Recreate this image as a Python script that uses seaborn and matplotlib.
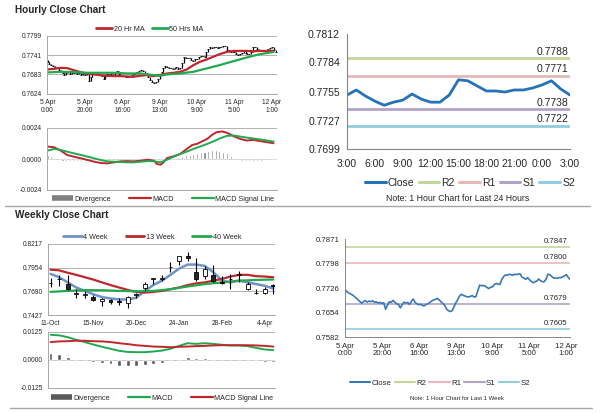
import numpy as np
import pandas as pd
import matplotlib
matplotlib.use('Agg')
import matplotlib.pyplot as plt
from matplotlib.lines import Line2D
import seaborn as sns

sns.set_style('white')
plt.rcParams['font.family'] = ['Liberation Sans', 'DejaVu Sans']

# hourly closes 5 Apr 0:00 .. 11 Apr 2:00
close_head = [0.7722, 0.7716, 0.7712, 0.7709, 0.7706, 0.7702, 0.7697, 0.7692, 0.7687, 0.7682,
              0.7686, 0.7689, 0.7685, 0.7688, 0.7686, 0.7689, 0.7684, 0.7686, 0.7682, 0.7684,
              0.7681, 0.7683, 0.7664, 0.7676, 0.7686, 0.7684, 0.7690, 0.7685, 0.7680, 0.7678,
              0.7668, 0.7677, 0.7685, 0.7682, 0.7684, 0.7678, 0.7687, 0.7694, 0.7684, 0.7680,
              0.7677, 0.7679, 0.7675, 0.7674, 0.7678, 0.7680, 0.7684, 0.7688, 0.7691, 0.7693,
              0.7696, 0.7692, 0.7686, 0.7681, 0.7676, 0.7665, 0.7660, 0.7657, 0.7659, 0.7670,
              0.7682, 0.7691, 0.7702, 0.7708, 0.7705, 0.7703, 0.7701, 0.7700, 0.7702, 0.7704,
              0.7700, 0.7701, 0.7718, 0.7735, 0.7733, 0.7734, 0.7732, 0.7728, 0.7725, 0.7729,
              0.7730, 0.7737, 0.7740, 0.7738, 0.7737, 0.7752, 0.7760, 0.7765, 0.7764, 0.7767,
              0.7766, 0.7764, 0.7767, 0.7766, 0.7768, 0.7768, 0.7758, 0.7756]
# last 24 hours, 11 Apr 3:00 .. 12 Apr 3:00
close_24h = [0.7752, 0.7757, 0.7751, 0.7746, 0.7742, 0.7745, 0.7747, 0.7753, 0.7748, 0.7745,
             0.7745, 0.7752, 0.7767, 0.7766, 0.7761, 0.7756, 0.7756, 0.7755, 0.7757, 0.7757,
             0.7759, 0.7762, 0.7766, 0.7758, 0.7752]
hourly_close = close_head + close_24h
hour_ticks = [0, 20, 40, 60, 80, 100, 120]
hour_labels = ['5 Apr\n0:00', '5 Apr\n20:00', '6 Apr\n16:00', '9 Apr\n13:00',
               '10 Apr\n9:00', '11 Apr\n5:00', '12 Apr\n1:00']

ma20_hours = [0, 3.5, 7, 10.5, 14, 17.5, 21, 24.5, 28, 32, 35.5, 39, 42.5, 46, 49.5, 53, 56.5, 60,
              64, 67.5, 71, 74.5, 78, 81.5, 85, 88.5, 92, 96, 99.5, 103, 106.5, 110, 113.5, 117, 121]
ma20 = [0.7698, 0.7700, 0.7703, 0.7702, 0.7696, 0.7690, 0.7686, 0.7683, 0.7681, 0.7679, 0.7678,
        0.7678, 0.7677, 0.7676, 0.7679, 0.7681, 0.7678, 0.7681, 0.7686, 0.7688, 0.7691, 0.7698,
        0.7711, 0.7721, 0.7728, 0.7736, 0.7744, 0.7751, 0.7754, 0.7754, 0.7754, 0.7753, 0.7754,
        0.7754, 0.7754]
ma50_hours = [0, 7, 14, 21, 28, 35.5, 42.5, 49.5, 56.5, 60, 64, 71, 78, 85, 92, 99.5, 106.5, 113.5, 121]
ma50 = [0.7689, 0.7691, 0.7690, 0.7688, 0.7688, 0.7688, 0.7686, 0.7686, 0.7681, 0.7679, 0.7683,
        0.7686, 0.7691, 0.7701, 0.7711, 0.7723, 0.7734, 0.7744, 0.7751]

macd_h_hours = [0, 3.5, 7, 10.5, 14, 18, 21.5, 25, 28.5, 32, 35.5, 39, 42.5, 46, 50, 53.5, 57, 58.5,
                60.5, 62, 64, 67.5, 71, 74.5, 77.5, 80, 82.5, 85.5, 88, 90.5, 93.5, 96, 99.5, 103,
                106.5, 110, 114, 117.5, 121]
macd_h = [0.00096, 0.00091, 0.00065, 0.00031, 0.00018, 0.00005, -0.00008, -0.00021, -0.00031,
          -0.00034, -0.00026, -0.00018, -0.00016, -0.00018, -0.00013, -0.00005, -0.00013, -0.00039,
          -0.00044, -0.00026, 0.00008, 0.00021, 0.00039, 0.00078, 0.00109, 0.00117, 0.00135,
          0.00156, 0.00187, 0.00208, 0.00213, 0.00203, 0.00177, 0.00156, 0.00143, 0.00148,
          0.00138, 0.00130, 0.00122]
signal_h_hours = [0, 3.5, 7, 10.5, 14, 18, 21.5, 25, 28.5, 32, 35.5, 39, 42.5, 46, 50, 53.5, 57,
                  60.5, 64, 67.5, 71, 74.5, 78, 81.5, 85.5, 89, 92.5, 96, 99.5, 103, 106.5, 110,
                  114, 117.5, 121]
signal_h = [0.00065, 0.00078, 0.00070, 0.00057, 0.00044, 0.00031, 0.00018, 0.00005, -0.00008,
            -0.00018, -0.00021, -0.00023, -0.00026, -0.00026, -0.00021, -0.00016, -0.00018,
            -0.00026, -0.00005, 0.00018, 0.00039, 0.00057, 0.00078, 0.00096, 0.00117, 0.00138,
            0.00161, 0.00179, 0.00182, 0.00174, 0.00166, 0.00159, 0.00151, 0.00143, 0.00135]
div_h_hours = list(range(0, 123, 2))
div_h = [0.00030, 0.00025, 0.00010, -0.00005, -0.00012, -0.00015, -0.00018, -0.00018, -0.00016,
         -0.00014, -0.00012, -0.00010, -0.00010, -0.00010, -0.00008, -0.00006, -0.00005, -0.00004,
         -0.00003, -0.00003, -0.00002, -0.00003, -0.00002, 0.00000, 0.00004, 0.00008, 0.00006,
         0.00002, -0.00004, -0.00010, -0.00016, -0.00012, -0.00004, 0.00004, 0.00010, 0.00016,
         0.00022, 0.00028, 0.00034, 0.00040, 0.00046, 0.00052, 0.00058, 0.00062, 0.00066, 0.00068,
         0.00064, 0.00056, 0.00044, 0.00026, 0.00008, -0.00006, -0.00012, -0.00016, -0.00018,
         -0.00016, -0.00014, -0.00012, -0.00010, -0.00010, -0.00008, -0.00008]

# pivot levels
lv_24h = {'R2': 0.7788, 'R1': 0.7771, 'S1': 0.7738, 'S2': 0.7722}
lv_week = {'R2': 0.7847, 'R1': 0.7800, 'S1': 0.7679, 'S2': 0.7605}
h24_labels = ['3:00', '6:00', '9:00', '12:00', '15:00', '18:00', '21:00', '0:00', '3:00']

# weekly candles 11-Oct .. 11-Apr
wk_open = [0.7780, 0.7826, 0.7771, 0.7666, 0.7652, 0.7626, 0.7581, 0.7592, 0.7588, 0.7562, 0.7652,
           0.7722, 0.7830, 0.7832, 0.7960, 0.8026, 0.8087, 0.7904, 0.7866, 0.7874, 0.7790, 0.7826,
           0.7874, 0.7714, 0.7668, 0.7676, 0.7760]
wk_high = [0.7836, 0.7874, 0.7874, 0.7714, 0.7695, 0.7645, 0.7619, 0.7607, 0.7619, 0.7637, 0.7676,
           0.7790, 0.7836, 0.7874, 0.8019, 0.8087, 0.8133, 0.8064, 0.7973, 0.7988, 0.7866, 0.7885,
           0.7912, 0.7790, 0.7714, 0.7733, 0.7771]
wk_low = [0.7733, 0.7752, 0.7706, 0.7619, 0.7619, 0.7581, 0.7524, 0.7550, 0.7543, 0.7504, 0.7619,
          0.7695, 0.7771, 0.7809, 0.7904, 0.7988, 0.8026, 0.7809, 0.7828, 0.7790, 0.7771, 0.7714,
          0.7790, 0.7706, 0.7657, 0.7657, 0.7657]
wk_close = [0.7786, 0.7830, 0.7714, 0.7670, 0.7664, 0.7592, 0.7607, 0.7573, 0.7569, 0.7626, 0.7660,
            0.7771, 0.7836, 0.7838, 0.7964, 0.8080, 0.8064, 0.7828, 0.7943, 0.7809, 0.7786, 0.7830,
            0.7878, 0.7771, 0.7672, 0.7714, 0.7752]
ma4 = [0.7885, 0.7847, 0.7790, 0.7733, 0.7695, 0.7657, 0.7626, 0.7611, 0.7600, 0.7600, 0.7619,
       0.7695, 0.7760, 0.7809, 0.7874, 0.7943, 0.7988, 0.7988, 0.7973, 0.7904, 0.7809, 0.7790,
       0.7809, 0.7790, 0.7771, 0.7752, 0.7722]
ma13 = [0.7931, 0.7924, 0.7897, 0.7874, 0.7847, 0.7821, 0.7790, 0.7760, 0.7733, 0.7706, 0.7684,
        0.7676, 0.7684, 0.7695, 0.7714, 0.7733, 0.7760, 0.7779, 0.7790, 0.7809, 0.7828, 0.7855,
        0.7874, 0.7874, 0.7859, 0.7855, 0.7847]
ma40_weeks = [0, 2, 4, 6, 8, 10, 12, 14, 16, 18, 20, 22, 24, 26]
ma40 = [0.7684, 0.7695, 0.7703, 0.7703, 0.7695, 0.7691, 0.7695, 0.7714, 0.7744, 0.7771, 0.7790,
        0.7809, 0.7817, 0.7822]
macd_w = [0.01125, 0.0110, 0.0102, 0.0090, 0.0080, 0.0069, 0.0059, 0.0050, 0.0041, 0.0036, 0.0035,
          0.0035, 0.0038, 0.0042, 0.0050, 0.0063, 0.0075, 0.0072, 0.0075, 0.0072, 0.0068, 0.0065,
          0.0065, 0.0062, 0.0054, 0.0047, 0.0044]
signal_w = [0.0080, 0.0083, 0.0084, 0.0086, 0.0086, 0.0084, 0.0083, 0.0080, 0.0075, 0.0071, 0.0066,
            0.0063, 0.0060, 0.0059, 0.0057, 0.0059, 0.0060, 0.0062, 0.0063, 0.0065, 0.0066, 0.0066,
            0.0066, 0.0066, 0.0065, 0.0063, 0.0060]
div_w = [0.0033, 0.0025, 0.0015, 0.0006, 0.0001, -0.0007, -0.0012, -0.0018, -0.0027, -0.0028,
         -0.0028, -0.0024, -0.0018, -0.0012, -0.0003, 0.0004, 0.0013, 0.0010, 0.0009, 0.0006,
         0.0001, 0.0001, 0.0001, -0.0003, -0.0006, -0.0009, -0.0010]
week_ticks = [0, 5, 10, 15, 20, 25]
week_labels = ['11-Oct', '15-Nov', '20-Dec', '24-Jan', '28-Feb', '4-Apr']

RED = '#c0272d'
GREEN = '#22a94f'
GRID = '#a6a6a6'
LV_COL = {'R2': '#c3d69b', 'R1': '#e6b9b8', 'S1': '#b3a2c7', 'S2': '#93cddd'}

fig = plt.figure(figsize=(6, 4.13), dpi=100)
W, H = 600, 413


def box(x0, y0, x1, y1):
    return [x0 / W, 1 - y1 / H, (x1 - x0) / W, (y1 - y0) / H]


def style_left(ax, yticks, fmt):
    ax.set_ylim(yticks[0], yticks[-1])
    ax.set_yticks(yticks)
    ax.set_yticklabels([fmt.format(v) for v in yticks])
    for s in ['top', 'right']:
        ax.spines[s].set_visible(False)
    for s in ['left', 'bottom']:
        ax.spines[s].set_color(GRID)
        ax.spines[s].set_linewidth(0.7)
    ax.grid(axis='y', color=GRID, lw=0.6)
    ax.grid(axis='x', visible=False)
    ax.tick_params(labelsize=4.8, length=2, width=0.6, color=GRID, pad=1.5)
    ax.set_xlabel('')
    ax.set_ylabel('')


def legend(handles, labels, cx, cy, size, hl=2.2, cs=1.0):
    fig.legend(handles, labels, loc='center', bbox_to_anchor=(cx / W, 1 - cy / H), ncol=len(labels),
               frameon=False, fontsize=size, handlelength=hl, columnspacing=cs, handletextpad=0.2,
               borderaxespad=0, borderpad=0)


def patch_handle(col):
    return Line2D([], [], color=col, lw=4, solid_capstyle='butt')


# ---------- hourly close (bars + MAs)
ax = fig.add_axes(box(47, 36, 277, 94))
hrs = np.arange(len(hourly_close))
cl = np.array(hourly_close)
prev = np.concatenate([[cl[0] + 0.0004], cl[:-1]])
ax.vlines(hrs, np.minimum(prev, cl), np.maximum(prev, cl), color='black', lw=0.9)
ax.plot(hrs, cl, ls='none', marker='_', ms=2, mew=0.6, color='black')
sns.lineplot(x=ma20_hours, y=ma20, ax=ax, color=RED, lw=1.6)
sns.lineplot(x=ma50_hours, y=ma50, ax=ax, color=GREEN, lw=1.6)
style_left(ax, [0.7624, 0.7683, 0.7741, 0.7799], '{:.4f}')
ax.set_xlim(-0.3, 122.8)
ax.set_xticks(hour_ticks)
ax.set_xticklabels(hour_labels, linespacing=1.15)
legend([Line2D([], [], color=RED, lw=2), Line2D([], [], color=GREEN, lw=2)],
       ['20 Hr MA', '50 Hrs MA'], 150, 29, 5.2)

# ---------- hourly MACD
ax = fig.add_axes(box(47, 128, 277, 190))
ax.bar(div_h_hours, div_h, width=1.1, color='#808080')
ax.axhline(0, color='#d0d0d0', lw=0.5)
sns.lineplot(x=macd_h_hours, y=macd_h, ax=ax, color=RED, lw=1.4)
sns.lineplot(x=signal_h_hours, y=signal_h, ax=ax, color=GREEN, lw=1.4)
style_left(ax, [-0.0024, 0.0, 0.0024], '{:.4f}')
ax.set_xlim(-0.3, 122.8)
ax.set_xticks([])
legend([patch_handle('#7f7f7f'), Line2D([], [], color=RED, lw=1.6),
        Line2D([], [], color=GREEN, lw=1.6)],
       ['Divergence', 'MACD', 'MACD Signal Line'], 163, 199, 5.2, hl=3.0, cs=2.5)

# ---------- last 24 hours
ax = fig.add_axes(box(347, 34, 570, 149))
for k, v in lv_24h.items():
    ax.axhline(v, color=LV_COL[k], lw=2)
    ax.annotate('{:.4f}'.format(v), (23.8, v), xytext=(0, 1), textcoords='offset points',
                ha='right', va='bottom', fontsize=7.5, color='#262626')
sns.lineplot(x=list(range(len(close_24h))), y=close_24h, ax=ax, color='#2672b8', lw=2)
yt = [0.7699, 0.7727, 0.7755, 0.7784, 0.7812]
ax.set_ylim(yt[0], yt[-1])
ax.set_yticks(yt)
ax.set_yticklabels(['{:.4f}'.format(v) for v in yt])
ax.set_xlim(0, 24)
ax.set_xticks(range(0, 25, 3))
ax.set_xticklabels(h24_labels)
for s in ['top', 'right']:
    ax.spines[s].set_visible(False)
for s in ['left', 'bottom']:
    ax.spines[s].set_color('#868686')
    ax.spines[s].set_linewidth(0.8)
ax.tick_params(labelsize=7.5, length=3, width=0.8, color='#868686', pad=2)
ax.tick_params(axis='x', pad=4)
legend([Line2D([], [], color='#2672b8', lw=2.2)] +
       [Line2D([], [], color=LV_COL[k], lw=2.2) for k in lv_24h],
       ['Close'] + list(lv_24h), 470, 183, 7.5, hl=2.0, cs=0.4)
fig.text(458 / W, 1 - 199 / H, 'Note: 1 Hour Chart for Last 24 Hours', fontsize=6.3,
         ha='center', va='center', color='#262626')

# ---------- weekly candles
ax = fig.add_axes(box(48, 244, 275, 315))
wks = np.arange(len(wk_close))
o = np.array(wk_open)
c = np.array(wk_close)
ax.vlines(wks, wk_low, wk_high, color='black', lw=0.8, zorder=3)
body = np.maximum(np.abs(c - o), 0.0003)
ax.bar(wks, body, bottom=np.minimum(o, c), width=0.45,
       color=np.where(c >= o, 'white', '#262626'), edgecolor='black', lw=0.6, zorder=4)
sns.lineplot(x=list(wks), y=ma4, ax=ax, color='#6f93c8', lw=1.8)
sns.lineplot(x=list(wks), y=ma13, ax=ax, color=RED, lw=1.6)
sns.lineplot(x=ma40_weeks, y=ma40, ax=ax, color=GREEN, lw=1.6)
style_left(ax, [0.7427, 0.7690, 0.7954, 0.8217], '{:.4f}')
ax.set_xlim(-0.3, 26.2)
ax.set_xticks(week_ticks)
ax.set_xticklabels(week_labels)
legend([Line2D([], [], color='#6f93c8', lw=2), Line2D([], [], color=RED, lw=2),
        Line2D([], [], color=GREEN, lw=2)],
       ['4 Week', '13 Week', '40 Week'], 152, 237, 5.2, hl=2.6, cs=2.5)

# ---------- weekly MACD
ax = fig.add_axes(box(48, 332, 275, 388))
ax.bar(wks, div_w, width=0.45, color='#595959')
ax.axhline(0, color='#d0d0d0', lw=0.5)
sns.lineplot(x=list(wks), y=macd_w, ax=ax, color=GREEN, lw=1.4)
sns.lineplot(x=list(wks), y=signal_w, ax=ax, color=RED, lw=1.4)
style_left(ax, [-0.0125, 0.0, 0.0125], '{:.4f}')
ax.set_xlim(-0.3, 26.2)
ax.set_xticks([])
legend([patch_handle('#595959'), Line2D([], [], color=GREEN, lw=1.6),
        Line2D([], [], color=RED, lw=1.6)],
       ['Divergence', 'MACD', 'MACD Signal Line'], 162, 398, 5.2, hl=3.0, cs=2.5)

# ---------- last week, hourly
ax = fig.add_axes(box(345, 239, 570, 337))
for k, v in lv_week.items():
    ax.axhline(v, color=LV_COL[k], lw=1.2)
    ax.annotate('{:.4f}'.format(v), (120.5, v), xytext=(0, 1.5), textcoords='offset points',
                ha='right', va='bottom', fontsize=5.6, color='#262626')
sns.lineplot(x=list(hrs), y=hourly_close, ax=ax, color='#3a78b5', lw=1.2)
yt = [0.7582, 0.7654, 0.7726, 0.7798, 0.7871]
ax.set_ylim(yt[0], yt[-1])
ax.set_yticks(yt)
ax.set_yticklabels(['{:.4f}'.format(v) for v in yt])
ax.set_xlim(0, 122)
ax.set_xticks(hour_ticks)
ax.set_xticklabels(hour_labels, linespacing=1.15)
for s in ['top', 'right']:
    ax.spines[s].set_visible(False)
for s in ['left', 'bottom']:
    ax.spines[s].set_color('#868686')
    ax.spines[s].set_linewidth(0.7)
ax.tick_params(labelsize=5.6, length=2.5, width=0.6, color='#868686', pad=1.5)
legend([Line2D([], [], color='#3a78b5', lw=1.5)] +
       [Line2D([], [], color=LV_COL[k], lw=1.5) for k in lv_week],
       ['Close'] + list(lv_week), 440, 383, 5.6, hl=2.6, cs=0.4)
fig.text(457 / W, 1 - 398 / H, 'Note: 1 Hour Chart for Last 1 Week', fontsize=4.3,
         ha='center', va='center', color='#262626')

# ---------- titles and separators
fig.text(15 / W, 1 - 10 / H, 'Hourly Close Chart', fontsize=7.2, fontweight='bold', va='center')
fig.text(15 / W, 1 - 215 / H, 'Weekly Close Chart', fontsize=7.2, fontweight='bold', va='center')
fig.add_artist(Line2D([5 / W, 590 / W], [1 - 206 / H] * 2, color=GRID, lw=1))
fig.add_artist(Line2D([10 / W, 592 / W], [1 - 408 / H] * 2, color=GRID, lw=1))

fig.savefig('out.png', dpi=100, facecolor='white')
